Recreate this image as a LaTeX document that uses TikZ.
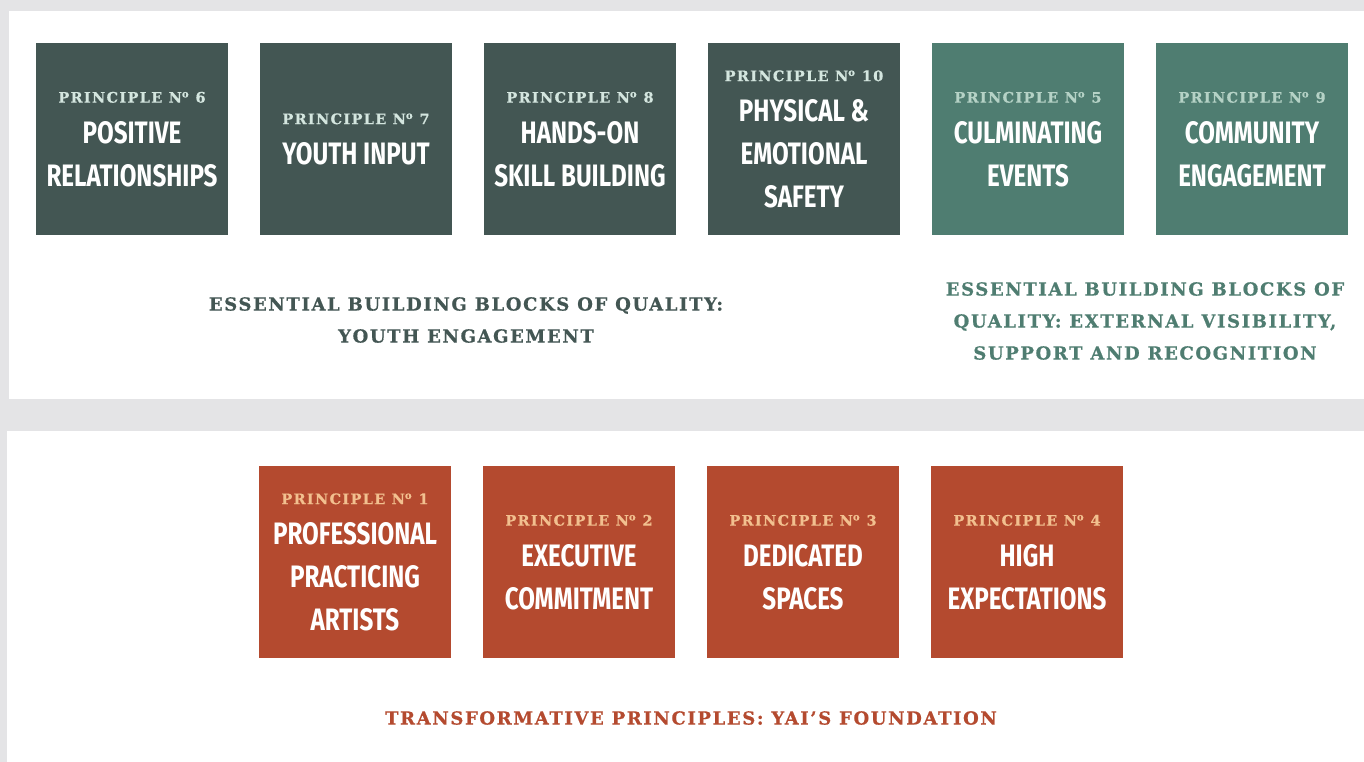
\documentclass[tikz,border=0pt]{standalone}
\usepackage{fontspec}
\usetikzlibrary{positioning}

\newfontfamily\titlefont{Fira Sans}[FakeStretch=0.78]
\newfontfamily\slabfont{DejaVu Serif}[LetterSpace=9, FakeBold=0.6]

\definecolor{slate}{HTML}{435653}
\definecolor{sage}{HTML}{4F7D71}
\definecolor{rust}{HTML}{B44A2F}
\definecolor{mint}{HTML}{D4E6DF}
\definecolor{seafoam}{HTML}{B5D2C6}
\definecolor{peach}{HTML}{F2C08F}
\definecolor{panelgray}{HTML}{E4E4E6}

\tikzset{
  tile/.style={minimum size=192pt, inner sep=0pt},
  tiletitle/.style={text=white, align=center, inner sep=0pt,
    font=\titlefont\bfseries\fontsize{31}{43}\selectfont},
  tilelabel/.style={inner sep=0pt, font=\slabfont\bfseries\fontsize{14.5}{16}\selectfont},
  caption/.style={align=center, inner sep=0pt,
    font=\slabfont\bfseries\fontsize{18}{32}\selectfont}
}

\begin{document}
\begin{tikzpicture}[x=1pt,y=-1pt]

% -------------------------------------------------
% Background and panels
% -------------------------------------------------
\useasboundingbox (0,0) rectangle (1364,762);
\fill[panelgray] (0,0) rectangle (1364,762);
\fill[white] (9,11) rectangle (1364,399);   % top panel
\fill[white] (7,431) rectangle (1364,762);  % bottom panel

% -------------------------------------------------
% Top row : youth engagement (dark)
% -------------------------------------------------
\foreach \n/\x/\num/\ttl in {p6/132/6/{POSITIVE\\RELATIONSHIPS},
                             p7/356/7/{YOUTH INPUT},
                             p8/580/8/{HANDS-ON\\SKILL BUILDING},
                             p10/804/10/{PHYSICAL \&\\EMOTIONAL\\SAFETY}}
{
  \node[tile, fill=slate] (\n) at (\x,139) {};
  \node[tiletitle] (\n t) at (\x,154) {\ttl};
  \node[tilelabel, text=mint, above=18pt of \n t] (\n l) {PRINCIPLE N\textsuperscript{o} \num};
}

% -------------------------------------------------
% Top row : external visibility (green)
% -------------------------------------------------
\foreach \n/\x/\num/\ttl in {p5/1028/5/{CULMINATING\\EVENTS},
                             p9/1252/9/{COMMUNITY\\ENGAGEMENT}}
{
  \node[tile, fill=sage] (\n) at (\x,139) {};
  \node[tiletitle] (\n t) at (\x,154) {\ttl};
  \node[tilelabel, text=seafoam, above=18pt of \n t] (\n l) {PRINCIPLE N\textsuperscript{o} \num};
}

% -------------------------------------------------
% Bottom row : foundation (red)
% -------------------------------------------------
\foreach \n/\x/\num/\ttl in {p1/355/1/{PROFESSIONAL\\PRACTICING\\ARTISTS},
                             p2/579/2/{EXECUTIVE\\COMMITMENT},
                             p3/803/3/{DEDICATED\\SPACES},
                             p4/1027/4/{HIGH\\EXPECTATIONS}}
{
  \node[tile, fill=rust] (\n) at (\x,562) {};
  \node[tiletitle] (\n t) at (\x,577) {\ttl};
  \node[tilelabel, text=peach, above=18pt of \n t] (\n l) {PRINCIPLE N\textsuperscript{o} \num};
}

% -------------------------------------------------
% Captions
% -------------------------------------------------
\node[caption, text=slate] (capyouth) at (466,320)
  {ESSENTIAL BUILDING BLOCKS OF QUALITY:\\YOUTH ENGAGEMENT};
\node[caption, text=sage] (capext) at (1145,321)
  {ESSENTIAL BUILDING BLOCKS OF\\QUALITY: EXTERNAL VISIBILITY,\\SUPPORT AND RECOGNITION};
\node[caption, text=rust] (capfound) at (691,718)
  {TRANSFORMATIVE PRINCIPLES: YAI’S FOUNDATION};

\end{tikzpicture}
\end{document}
